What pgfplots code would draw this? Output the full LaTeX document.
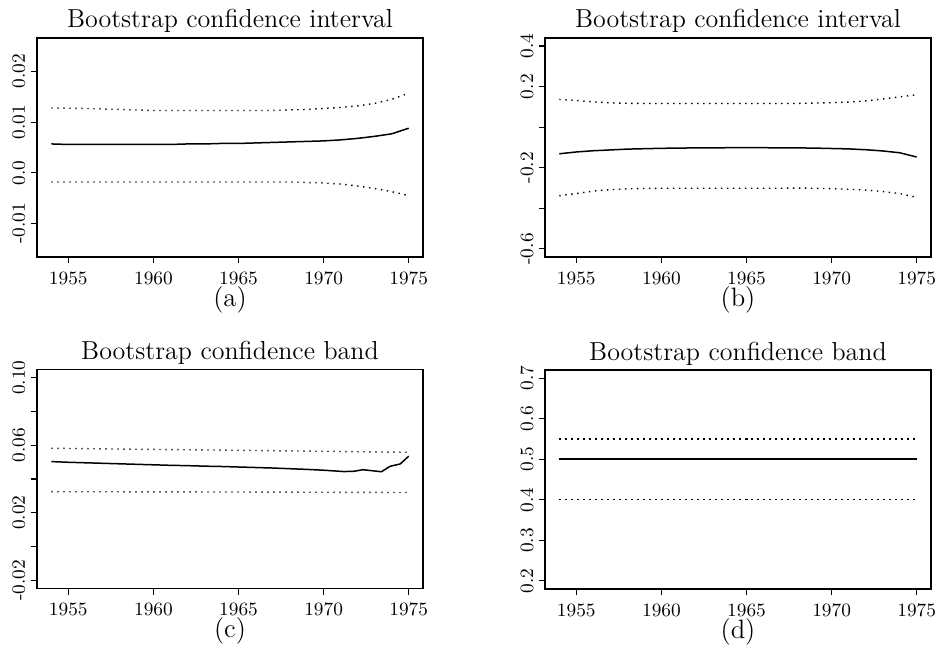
\documentclass[border=0pt]{standalone}
\usepackage{pgfplots}
\pgfplotsset{compat=1.18}
\begin{document}
\begin{tikzpicture}
\useasboundingbox (0pt,0pt) rectangle (468.5pt,324.5pt);
\pgfplotsset{
  every axis title shift=0pt,
  panel/.style={
    scale only axis, width=193pt, height=109.5pt,
    anchor=south west,
    xmin=1953.16, xmax=1975.84,
    xtick={1955,1960,1965,1970,1975},
    xticklabels={1955,1960,1965,1970,1975},
    xtick pos=left, ytick pos=left,
    scaled y ticks=false,
    tick align=outside,
    major tick length=3pt,
    axis line style={line width=0.7pt},
    every tick/.style={line width=0.6pt, black},
    tick label style={font=\fontsize{9.4}{11}\selectfont},
    xticklabel style={inner sep=0pt},
    xticklabel shift=4.1pt,
    yticklabel style={rotate=90, anchor=base},
    yticklabel shift=3pt,
    title style={font=\fontsize{13}{15}\selectfont, at={(0.5,1)}, anchor=base, yshift=5pt},
    xlabel style={font=\fontsize{13.3}{15}\selectfont, inner sep=0pt, at={(0.5,0)}, anchor=base, yshift=-24.7pt},
  },
  ci/.style={black, line width=0.7pt, dash pattern=on 0.7pt off 2.3pt},
  est/.style={black, line width=0.75pt},
}

% (a)
\begin{axis}[panel, at={(18.5pt,196pt)},
  title={Bootstrap confidence interval}, xlabel={(a)},
  ymin=-0.0166, ymax=0.0266,
  ytick={-0.01,0,0.01,0.02}, yticklabels={-0.01,0.0,0.01,0.02}]
\addplot[ci] coordinates {
  (1954,0.0128) (1955,0.01275) (1956,0.0127) (1957,0.0126) (1958,0.0125)
  (1959,0.0124) (1960,0.0123) (1961,0.0123) (1962,0.0123) (1963,0.0123)
  (1964,0.0123) (1965,0.0123) (1966,0.0123) (1967,0.0123) (1968,0.0124)
  (1969,0.0125) (1970,0.0127) (1971,0.0129) (1972,0.0132) (1973,0.0137)
  (1974,0.0145) (1975,0.0157)};
\addplot[est] coordinates {
  (1954,0.0057) (1955,0.0056) (1956,0.0056) (1957,0.0056) (1958,0.0056)
  (1959,0.0056) (1960,0.0056) (1961,0.0056) (1962,0.0057) (1963,0.0057)
  (1964,0.0058) (1965,0.0058) (1966,0.0059) (1967,0.0060) (1968,0.0061)
  (1969,0.0062) (1970,0.0063) (1971,0.0065) (1972,0.0068) (1973,0.0072)
  (1974,0.0077) (1975,0.0088)};
\addplot[ci] coordinates {
  (1954,-0.0018) (1955,-0.0018) (1956,-0.0018) (1957,-0.0018) (1958,-0.0018)
  (1959,-0.0018) (1960,-0.0018) (1961,-0.0018) (1962,-0.0018) (1963,-0.0018)
  (1964,-0.0018) (1965,-0.0018) (1966,-0.0018) (1967,-0.0018) (1968,-0.0018)
  (1969,-0.0019) (1970,-0.0020) (1971,-0.0022) (1972,-0.0026) (1973,-0.0031)
  (1974,-0.0037) (1975,-0.0045)};
\end{axis}

% (b)
\begin{axis}[panel, at={(272.5pt,196pt)},
  title={Bootstrap confidence interval}, xlabel={(b)},
  ymin=-0.64, ymax=0.44,
  ytick={-0.6,-0.4,-0.2,0,0.2,0.4}, yticklabels={-0.6,{},-0.2,{},0.2,0.4}]
\addplot[ci] coordinates {
  (1954,0.137) (1955,0.132) (1956,0.125) (1957,0.120) (1958,0.118)
  (1959,0.117) (1960,0.117) (1961,0.117) (1962,0.117) (1963,0.117)
  (1964,0.117) (1965,0.117) (1966,0.117) (1967,0.117) (1968,0.117)
  (1969,0.119) (1970,0.121) (1971,0.124) (1972,0.130) (1973,0.139)
  (1974,0.150) (1975,0.160)};
\addplot[est] coordinates {
  (1954,-0.131) (1955,-0.122) (1956,-0.116) (1957,-0.112) (1958,-0.108)
  (1959,-0.106) (1960,-0.104) (1961,-0.103) (1962,-0.102) (1963,-0.102)
  (1964,-0.101) (1965,-0.101) (1966,-0.101) (1967,-0.102) (1968,-0.102)
  (1969,-0.103) (1970,-0.105) (1971,-0.107) (1972,-0.111) (1973,-0.117)
  (1974,-0.126) (1975,-0.147)};
\addplot[ci] coordinates {
  (1954,-0.338) (1955,-0.327) (1956,-0.315) (1957,-0.308) (1958,-0.304)
  (1959,-0.302) (1960,-0.301) (1961,-0.301) (1962,-0.301) (1963,-0.301)
  (1964,-0.301) (1965,-0.301) (1966,-0.301) (1967,-0.301) (1968,-0.300)
  (1969,-0.301) (1970,-0.303) (1971,-0.306) (1972,-0.310) (1973,-0.317)
  (1974,-0.327) (1975,-0.346)};
\end{axis}

% (c)
\begin{axis}[panel, at={(18.5pt,30.25pt)},
  title={Bootstrap confidence band}, xlabel={(c)},
  ymin=-0.0248, ymax=0.1048,
  ytick={-0.02,0,0.02,0.04,0.06,0.08,0.10},
  yticklabels={-0.02,{},0.02,{},0.06,{},0.10}]
\addplot[ci] coordinates {
  (1954,0.0582) (1959,0.0576) (1964,0.0571) (1969,0.0565) (1975,0.0558)};
\addplot[est] coordinates {
  (1954,0.0503) (1955,0.0499) (1956,0.0496) (1957,0.0493) (1958,0.0490)
  (1959,0.0487) (1960,0.0484) (1961,0.0481) (1962,0.0479) (1963,0.0476)
  (1964,0.0474) (1965,0.0471) (1966,0.0468) (1967,0.0465) (1968,0.0461)
  (1969,0.0457) (1970,0.0452) (1971.2,0.0444) (1971.8,0.0446) (1972.3,0.0455)
  (1973.4,0.0443) (1973.9,0.0475) (1974.5,0.0489) (1975,0.0535)};
\addplot[ci] coordinates {
  (1954,0.0325) (1965,0.0323) (1975,0.0320)};
\end{axis}

% (d)
\begin{axis}[panel, at={(272.5pt,30pt)},
  title={Bootstrap confidence band}, xlabel={(d)},
  ymin=0.18, ymax=0.72,
  ytick={0.2,0.3,0.4,0.5,0.6,0.7},
  yticklabels={0.2,0.3,0.4,0.5,0.6,0.7}]
\addplot[ci] coordinates {(1954,0.55) (1965,0.55) (1975,0.55)};
\addplot[est] coordinates {(1954,0.5) (1965,0.5) (1975,0.5)};
\addplot[ci] coordinates {(1954,0.40) (1965,0.40) (1975,0.40)};
\end{axis}
\end{tikzpicture}
\end{document}
